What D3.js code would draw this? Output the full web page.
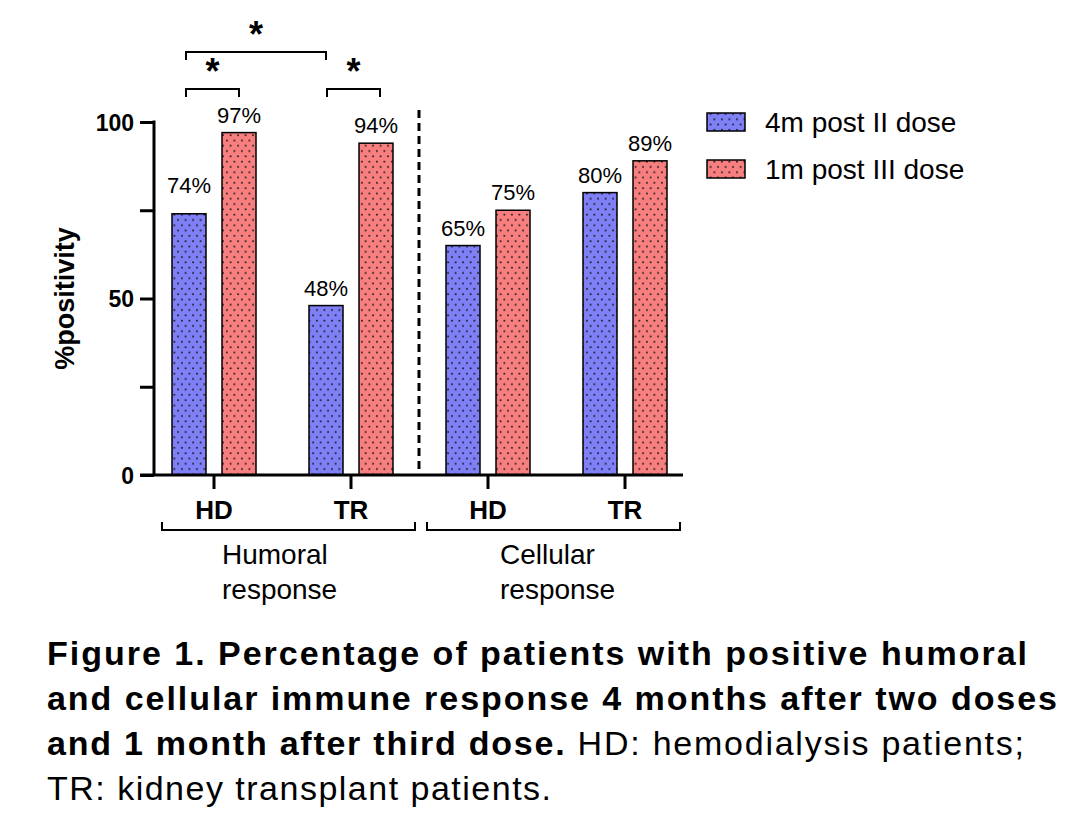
<!DOCTYPE html>
<meta charset="utf-8">
<script src="https://d3js.org/d3.v7.min.js"></script>
<style>
  body { margin: 0; background: #fff; }
  text { font-family: "Liberation Sans", Arial, sans-serif; fill: #000; }
</style>
<div id="my_dataviz"></div>
<script>

  // data
  var groups = ["HD", "TR", "HD ", "TR "];          // trailing space keeps band keys unique
  var series = ["4m post II dose", "1m post III dose"];
  var postII  = [74, 48, 65, 80];
  var postIII = [97, 94, 75, 89];
  var responses = ["Humoral response", "Cellular response"];
  var yTicks = [0, 25, 50, 75, 100];
  var yLabels = [0, 50, 100];
  // significance brackets: [group index, series index] -> [group index, series index], level
  var sigs = [
    { from: [0, 0], to: [0, 1], level: 0 },
    { from: [1, 0], to: [1, 1], level: 0 },
    { from: [0, 0], to: [1, 0], level: 1 }
  ];

  var colors = ["#7f7ff6", "#f77f7f"];

  var W = 1092, H = 834;
  var svg = d3.select("#my_dataviz")
    .append("svg")
    .attr("width", W)
    .attr("height", H);

  // dotted fill patterns
  var defs = svg.append("defs");
  colors.forEach(function (c, i) {
    var p = defs.append("pattern")
      .attr("id", "dots" + i)
      .attr("patternUnits", "userSpaceOnUse")
      .attr("width", 7.5)
      .attr("height", 10.6);
    p.append("rect").attr("width", 7.5).attr("height", 10.6).attr("fill", c);
    p.append("circle").attr("cx", 1.9).attr("cy", 2.6).attr("r", 0.9).attr("fill", "#111");
    p.append("circle").attr("cx", 5.6).attr("cy", 7.9).attr("r", 0.9).attr("fill", "#111");
  });

  var axisX = 154, axisRight = 683;

  var x0 = d3.scaleBand()
    .domain(groups)
    .range([145.5, 693.5]);

  var x1 = d3.scaleBand()
    .domain(series)
    .range([0, 84])
    .paddingInner(0.32)
    .paddingOuter(0);

  var y = d3.scaleLinear()
    .domain([0, 100])
    .range([475, 122]);

  function center(g) { return x0(groups[g]) + x0.bandwidth() / 2; }
  function barX(g, s) { return center(g) - 42 + x1(series[s]); }

  // Y axis
  var yAxis = svg.append("g")
    .attr("transform", "translate(" + axisX + ",0)")
    .call(d3.axisLeft(y).tickValues(yTicks).tickSize(14).tickFormat(function (d) {
      return yLabels.indexOf(d) >= 0 ? d : "";
    }));
  yAxis.select(".domain").attr("stroke", "#000").attr("stroke-width", 3).attr("d", "M0," + (y(100) - 1.5) + "V" + y(0));
  yAxis.selectAll(".tick line").attr("stroke", "#000").attr("stroke-width", 3);
  yAxis.selectAll(".tick text")
    .attr("x", -20)
    .attr("dy", "0.36em")
    .style("font-family", "Liberation Sans, Arial, sans-serif")
    .style("font-size", "23px")
    .style("font-weight", "bold");

  svg.append("text")
    .attr("transform", "translate(74," + y(50) + ") rotate(-90)")
    .attr("text-anchor", "middle")
    .style("font-size", "27px")
    .style("font-weight", "bold")
    .text("%positivity");

  // bars
  var rows = [];
  groups.forEach(function (g, gi) {
    rows.push({ g: gi, s: 0, v: postII[gi] });
    rows.push({ g: gi, s: 1, v: postIII[gi] });
  });

  svg.append("g")
    .selectAll("rect")
    .data(rows)
    .enter()
    .append("rect")
    .attr("x", function (d) { return barX(d.g, d.s); })
    .attr("y", function (d) { return y(d.v); })
    .attr("width", x1.bandwidth())
    .attr("height", function (d) { return y(0) - y(d.v); })
    .attr("fill", function (d) { return "url(#dots" + d.s + ")"; })
    .attr("stroke", "#000")
    .attr("stroke-width", 1.5);

  // the first label sits higher in the original
  svg.append("g")
    .selectAll("text")
    .data(rows)
    .enter()
    .append("text")
    .attr("x", function (d) { return barX(d.g, d.s) + x1.bandwidth() / 2; })
    .attr("y", function (d, i) { return y(d.v) - (i === 0 ? 21 : 10); })
    .attr("text-anchor", "middle")
    .style("font-size", "22px")
    .text(function (d) { return d.v + "%"; });

  // X axis
  svg.append("line")
    .attr("x1", axisX - 14).attr("x2", axisRight)
    .attr("y1", y(0)).attr("y2", y(0))
    .attr("stroke", "#000").attr("stroke-width", 3);

  var xAxis = svg.append("g");
  groups.forEach(function (g, gi) {
    xAxis.append("line")
      .attr("x1", center(gi)).attr("x2", center(gi))
      .attr("y1", y(0)).attr("y2", y(0) + 14)
      .attr("stroke", "#000").attr("stroke-width", 3);
    xAxis.append("text")
      .attr("x", center(gi))
      .attr("y", 519)
      .attr("text-anchor", "middle")
      .style("font-size", "26px")
      .style("font-weight", "bold")
      .text(g.trim());
  });

  // dashed separator
  svg.append("line")
    .attr("x1", 419).attr("x2", 419)
    .attr("y1", 110).attr("y2", y(0))
    .attr("stroke", "#000").attr("stroke-width", 3)
    .attr("stroke-dasharray", "8,5");

  // response brackets
  var brackets = [[162, 415, 222], [427, 680, 500]];
  responses.forEach(function (r, i) {
    var b = brackets[i];
    svg.append("path")
      .attr("d", "M" + b[0] + ",522V530H" + b[1] + "V522")
      .attr("fill", "none").attr("stroke", "#000").attr("stroke-width", 2);
    r.split(" ").forEach(function (w, wi) {
      svg.append("text")
        .attr("x", b[2])
        .attr("y", 564 + wi * 35)
        .style("font-size", "28px")
        .text(w);
    });
  });

  // significance
  sigs.forEach(function (s, i) {
    var nudge = i === 1 ? 4 : 0;
    var xa = barX(s.from[0], s.from[1]) + x1.bandwidth() / 2 - 3 + nudge;
    var xb = barX(s.to[0], s.to[1]) + x1.bandwidth() / 2 + nudge;
    var yl = s.level ? 52 : 89;
    svg.append("path")
      .attr("d", "M" + xa + "," + (yl + 8) + "V" + yl + "H" + xb + "V" + (yl + 8))
      .attr("fill", "none").attr("stroke", "#000").attr("stroke-width", 2);
    svg.append("text")
      .attr("x", (xa + xb) / 2)
      .attr("y", yl - 5)
      .attr("text-anchor", "middle")
      .style("font-size", "36px")
      .style("font-weight", "bold")
      .text("*");
  });

  // legend
  var legend = svg.append("g");
  series.forEach(function (s, i) {
    legend.append("rect")
      .attr("x", 707).attr("y", 113 + i * 47)
      .attr("width", 38).attr("height", 18)
      .attr("fill", "url(#dots" + i + ")")
      .attr("stroke", "#000").attr("stroke-width", 1.5);
    legend.append("text")
      .attr("x", 765).attr("y", 132 + i * 47)
      .style("font-size", "28px")
      .text(s);
  });

  // caption
  var caption = [
    { parts: [["Figure 1. Percentage of patients with positive humoral", true]], w: 980 },
    { parts: [["and cellular immune response 4 months after two doses", true]], w: 1010 },
    { parts: [["and 1 month after third dose.", true], [" HD: hemodialysis patients;", false]], w: 977 },
    { parts: [["TR: kidney transplant patients.", false]], w: 504 }
  ];
  caption.forEach(function (line, i) {
    var t = svg.append("text")
      .attr("x", 47)
      .attr("y", 665 + i * 45)
      .attr("textLength", line.w)
      .attr("lengthAdjust", "spacing")
      .style("font-size", "34px");
    line.parts.forEach(function (p) {
      t.append("tspan")
        .style("font-weight", p[1] ? "bold" : "normal")
        .text(p[0]);
    });
  });

</script>
